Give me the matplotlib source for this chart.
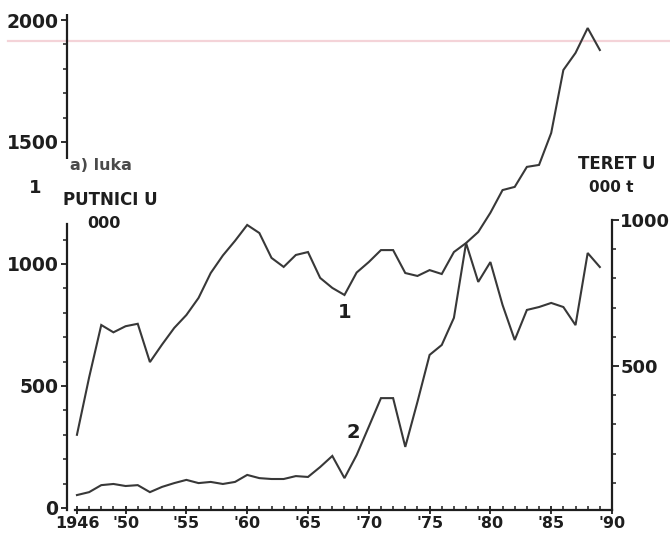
import matplotlib
matplotlib.use("Agg")
import matplotlib.pyplot as plt
import matplotlib.transforms as mtransforms
from matplotlib.lines import Line2D

# ---------------- data ----------------
years = list(range(1946, 1990))
putnici = [300, 535, 750, 720, 745, 755, 598, 670, 738, 791,
           861, 963, 1035, 1095, 1160, 1127, 1025, 988, 1037, 1049,
           943, 902, 873, 965, 1008, 1057, 1057, 963, 951, 975,
           959, 1049, 1086, 1131, 1210, 1303, 1316, 1398, 1406, 1537,
           1795, 1865, 1967, 1877]
teret = [58, 68, 92, 96, 89, 92, 68, 86, 99, 110,
         99, 103, 96, 103, 127, 116, 113, 113, 123, 120,
         154, 192, 116, 195, 292, 390, 390, 223, 377, 538,
         572, 665, 921, 788, 856, 709, 589, 692, 702, 716,
         702, 640, 887, 839]
x_major = [1946, 1950, 1955, 1960, 1965, 1970, 1975, 1980, 1985, 1990]
x_labels = ["1946", "'50", "'55", "'60", "'65", "'70", "'75", "'80", "'85", "'90"]
left_major = [0, 500, 1000, 1500, 2000]
left_labels = ["0", "500", "1000", "1500", "2000"]
left_minor = [100, 200, 300, 400, 600, 700, 800, 900, 1100, 1600, 1700, 1800, 1900]
right_major = [500, 1000]
right_labels = ["500", "1000"]
right_minor = [100, 200, 300, 400, 600, 700, 800, 900]

W, H = 670, 536
LINE = "#383838"
INK = "#1e1e1e"
plt.rcParams['font.family'] = ['DejaVu Sans']

fig = plt.figure(figsize=(W / 100, H / 100), dpi=100)
fig.patch.set_facecolor("white")

def fx(px):
    return px / W

def fy(py):
    return 1 - py / H

# axes: x axis line from x=75 to 612 px, y from 20 (top) to 510 (bottom)
ax = fig.add_axes([fx(75), fy(510), (612 - 75) / W, (510 - 20) / H])
ax2 = ax.twinx()

# faint pink scan line near the top
fig.add_artist(Line2D([fx(8), fx(670)], [fy(41), fy(41)], transform=fig.transFigure,
                      color="#f4d3d8", lw=1.6, zorder=0))

ax.plot(years, putnici, color=LINE, lw=1.5, solid_joinstyle="miter", zorder=3)
ax2.plot(years, teret, color=LINE, lw=1.5, solid_joinstyle="miter", zorder=3)

ax.set_xlim(1945.84, 1990)
ax.set_ylim(-8.2, 2000)
ax2.set_ylim(6.85, 1685)

for a in (ax, ax2):
    a.patch.set_visible(False)
    a.spines['top'].set_visible(False)
ax.spines['right'].set_visible(False)
ax2.spines['left'].set_visible(False)
ax2.spines['bottom'].set_visible(False)

# left spine: offset and broken
ax.spines['left'].set_position(('outward', 5.8))
ax.spines['left'].set_bounds(-8.2, 1163)
ax.spines['left'].set_linewidth(1.6)
ax.spines['left'].set_color(INK)
trans = mtransforms.blended_transform_factory(ax.transAxes, ax.transData) + \
    mtransforms.ScaledTranslation(-5.8 / 72, 0, fig.dpi_scale_trans)
ax.plot([0, 0], [1430, 2025], transform=trans, color=INK, lw=1.6, clip_on=False,
        solid_capstyle="butt")

ax.spines['bottom'].set_linewidth(1.6)
ax.spines['bottom'].set_color(INK)
ax2.spines['right'].set_linewidth(1.6)
ax2.spines['right'].set_color(INK)
ax2.spines['right'].set_bounds(6.85, 1000)

# ticks
ax.set_xticks(x_major)
ax.set_xticklabels(x_labels)
ax.set_xticks(years, minor=True)
ax.tick_params(axis='x', which='major', direction='inout', length=6, width=1.3,
               labelsize=11.5, pad=1, colors=INK)
ax.tick_params(axis='x', which='minor', direction='in', length=3, width=1.1, colors=INK)
for t in ax.get_xticklabels():
    t.set_fontweight('bold')

ax.set_yticks(left_major)
ax.set_yticklabels(left_labels)
ax.set_yticks(left_minor, minor=True)
ax.tick_params(axis='y', which='major', direction='out', length=4, width=1.3,
               labelsize=13.5, pad=2, colors=INK)
ax.tick_params(axis='y', which='minor', direction='out', length=3, width=1.1, colors=INK)
for t in ax.get_yticklabels():
    t.set_fontweight('bold')

ax2.set_yticks(right_major)
ax2.set_yticklabels(right_labels)
ax2.set_yticks(right_minor, minor=True)
ax2.tick_params(axis='y', which='major', direction='out', length=5, width=1.3,
                labelsize=13, pad=1, colors=INK)
ax2.tick_params(axis='y', which='minor', direction='out', length=3, width=1.1, colors=INK)
for t in ax2.get_yticklabels():
    t.set_fontweight('bold')

# texts
def txt(px, py, s, size, color=INK, ha='center'):
    fig.text(fx(px), fy(py), s, ha=ha, va='center', fontsize=size,
             fontweight='bold', color=color)

txt(101, 166, "a) luka", 11.5, color="#4a4a4a")
txt(35, 188, "1", 13)
txt(110, 200, "PUTNICI U", 12)
txt(104, 224, "000", 11.5)
txt(617, 164, "TERET U", 12)
txt(611, 188, "000 t", 11)
txt(345, 312, "1", 14)
txt(353, 433, "2", 14)

fig.savefig("out.png", dpi=100, facecolor="white")
